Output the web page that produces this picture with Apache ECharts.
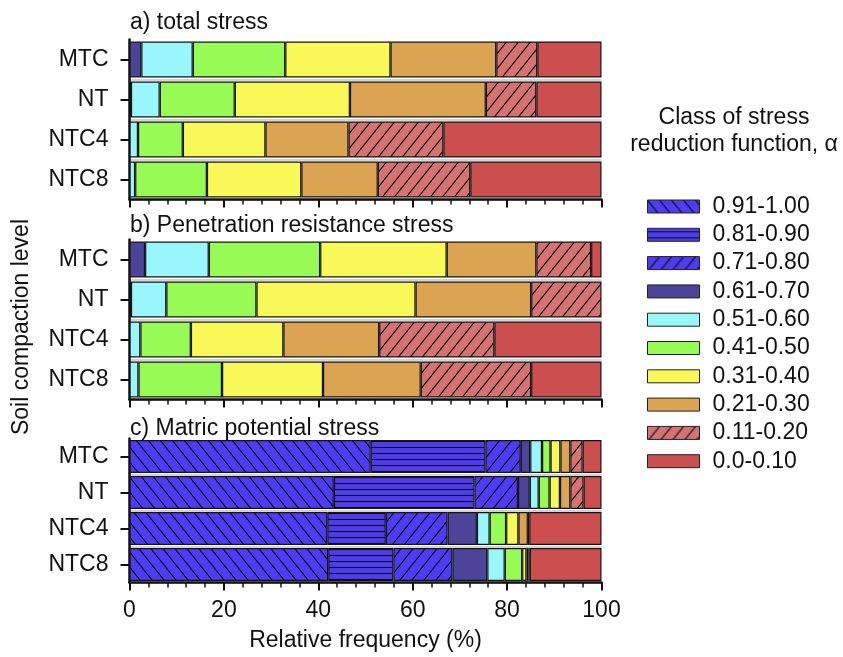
<!DOCTYPE html>
<html>
<head>
<meta charset="utf-8">
<script src="https://cdn.jsdelivr.net/npm/echarts@6/dist/echarts.min.js"></script>
<style>
  html, body { margin: 0; padding: 0; background: #fff; }
  #chart { width: 843px; height: 657px; }
</style>
</head>
<body>
<div id="chart"></div>
<script>
// Soil compaction levels (rows) and stress-reduction classes (stack order, left to right)
const sites = ['MTC', 'NT', 'NTC4', 'NTC8'];
const classes = ['0.91-1.00', '0.81-0.90', '0.71-0.80', '0.61-0.70', '0.51-0.60',
                 '0.41-0.50', '0.31-0.40', '0.21-0.30', '0.11-0.20', '0.0-0.10'];
const xTicks = [0, 20, 40, 60, 80, 100];
const panelTitles = ['a) total stress', 'b) Penetration resistance stress', 'c) Matric potential stress'];

// Relative frequency (%) of each class, per site — a) total stress
const totalMTC  = [0, 0, 0, 2.5, 10.9, 19.6, 22.3, 22.4, 8.7, 13.6];
const totalNT   = [0, 0, 0, 0.3, 6.1, 15.9, 24.4, 28.8, 10.7, 13.8];
const totalNTC4 = [0, 0, 0, 0, 1.8, 9.5, 17.5, 17.6, 20.1, 33.5];
const totalNTC8 = [0, 0, 0, 0, 1.2, 15.2, 20.0, 16.2, 19.6, 27.8];

// b) penetration resistance stress
const penMTC  = [0, 0, 0, 3.3, 13.5, 23.6, 26.8, 19.0, 11.6, 2.2];
const penNT   = [0, 0, 0, 0.3, 7.5, 19.1, 33.7, 24.5, 14.9, 0];
const penNTC4 = [0, 0, 0, 0, 2.3, 10.7, 19.6, 20.3, 24.4, 22.7];
const penNTC8 = [0, 0, 0, 0, 1.9, 17.7, 21.4, 20.7, 23.4, 14.9];

// c) matric potential stress
const matMTC  = [51.1, 24.3, 7.5, 2.0, 2.5, 1.8, 2.1, 2.1, 2.6, 4.0];
const matNT   = [43.3, 29.8, 9.2, 2.5, 1.9, 2.3, 2.2, 2.2, 2.8, 3.8];
const matNTC4 = [41.9, 12.4, 13.1, 6.2, 2.7, 3.5, 2.6, 2.0, 0.3, 15.3];
const matNTC8 = [42.1, 13.8, 12.5, 7.4, 3.7, 3.7, 0.9, 0.4, 0.3, 15.2];

const panels = [
  [totalMTC, totalNT, totalNTC4, totalNTC8],
  [penMTC, penNT, penNTC4, penNTC8],
  [matMTC, matNT, matNTC4, matNTC8]
];

const FONT = '"Liberation Sans", Arial, Helvetica, sans-serif';
const INK = '#111';

// Hatched fills: 'b' = back-slash, 'f' = forward-slash, 'h' = horizontal lines
function hatch(base, kind) {
  const c = document.createElement('canvas');
  const w = kind === 'h' ? 8 : 12;
  const h = kind === 'h' ? 6 : 15;
  c.width = w; c.height = h;
  const g = c.getContext('2d');
  g.fillStyle = base;
  g.fillRect(0, 0, w, h);
  g.strokeStyle = '#111';
  g.lineWidth = 1.1;
  g.beginPath();
  if (kind === 'h') {
    g.moveTo(0, 3.5); g.lineTo(w, 3.5);
  } else {
    for (const dx of [-w, 0, w]) {
      if (kind === 'b') { g.moveTo(dx, 0); g.lineTo(dx + w, h); }
      else { g.moveTo(dx, h); g.lineTo(dx + w, 0); }
    }
  }
  g.stroke();
  return { image: c, repeat: 'repeat' };
}

const BLUE = '#4D3CF3';
const fills = [
  hatch(BLUE, 'b'), hatch(BLUE, 'h'), hatch(BLUE, 'f'),
  '#4B4499', '#9AF6FD', '#98FB55', '#F8F858', '#DCA352',
  hatch('#D57373', 'f'), '#CB4F4F'
];

const gridTops = [39.5, 239.5, 438.5];
const gridHeights = [160, 160, 144];

const grids = gridTops.map((t, i) => ({
  left: 129.5, width: 472, top: t, height: gridHeights[i], outerBoundsMode: 'none'
}));

const xAxes = gridTops.map((t, p) => ({
  gridIndex: p, type: 'value', min: xTicks[0], max: xTicks[xTicks.length - 1],
  interval: xTicks[1] - xTicks[0],
  axisLine: { show: true, lineStyle: { color: INK, width: 2.5 } },
  axisTick: { show: true, length: 8, lineStyle: { color: INK, width: 2 } },
  minorTick: { show: true, splitNumber: 5, length: 5, lineStyle: { color: INK, width: 1.5 } },
  splitLine: { show: false },
  axisLabel: { show: p === 2, fontSize: 23, color: INK, fontFamily: FONT, margin: 17 },
  name: p === 2 ? 'Relative frequency (%)' : '',
  nameLocation: 'middle', nameGap: 47,
  nameTextStyle: { fontSize: 23, color: INK, fontFamily: FONT }
}));

const yAxes = gridTops.map((t, p) => ({
  gridIndex: p, type: 'category', data: sites, inverse: true,
  axisLine: { show: true, lineStyle: { color: INK, width: 2.5 } },
  axisTick: { show: true, alignWithLabel: true, length: 9, lineStyle: { color: INK, width: 2 } },
  axisLabel: { fontSize: 23, color: INK, fontFamily: FONT, margin: 21 },
  splitLine: { show: true, interval: (i) => i > 0, lineStyle: { color: '#c4c4c4', width: 1.5 } }
}));

const series = [];
panels.forEach((rows, p) => {
  classes.forEach((cls, k) => {
    series.push({
      type: 'bar', name: cls, stack: 'panel' + p,
      xAxisIndex: p, yAxisIndex: p,
      barCategoryGap: p === 2 ? '8%' : '10%',
      silent: true,
      itemStyle: { color: fills[k], borderColor: '#141414', borderWidth: 1.2 },
      data: rows.map(r => (r[k] > 0 ? r[k] : null))
    });
  });
});

const titleY = [23, 225.5, 428.5];
const graphic = panelTitles.map((txt, i) => ({
  type: 'text', silent: true,
  style: { x: 130, y: titleY[i], text: txt, fill: INK, font: '23px ' + FONT, verticalAlign: 'middle', align: 'left' }
}));
graphic.push({
  type: 'text', silent: true,
  style: { x: 734, y: 131, text: 'Class of stress\nreduction function, α', fill: INK,
           font: '23px ' + FONT, lineHeight: 27, align: 'center', verticalAlign: 'middle' }
});
graphic.push({
  type: 'text', silent: true, x: 22, y: 327, rotation: Math.PI / 2,
  style: { x: 0, y: 0, text: 'Soil compaction level', fill: INK, font: '23px ' + FONT,
           align: 'center', verticalAlign: 'middle' }
});

const chart = echarts.init(document.getElementById('chart'), null, { renderer: 'canvas' });
chart.setOption({
  animation: false,
  backgroundColor: '#fff',
  grid: grids,
  xAxis: xAxes,
  yAxis: yAxes,
  legend: {
    data: classes, orient: 'vertical', left: 642, top: 190,
    itemWidth: 52, itemHeight: 13, itemGap: 5.3, icon: 'rect', selectedMode: false,
    itemStyle: { borderColor: '#222', borderWidth: 1 },
    textStyle: { fontSize: 23, color: INK, fontFamily: FONT, lineHeight: 23, padding: [0, 0, 0, 8] }
  },
  graphic: graphic,
  series: series
});
</script>
</body>
</html>
